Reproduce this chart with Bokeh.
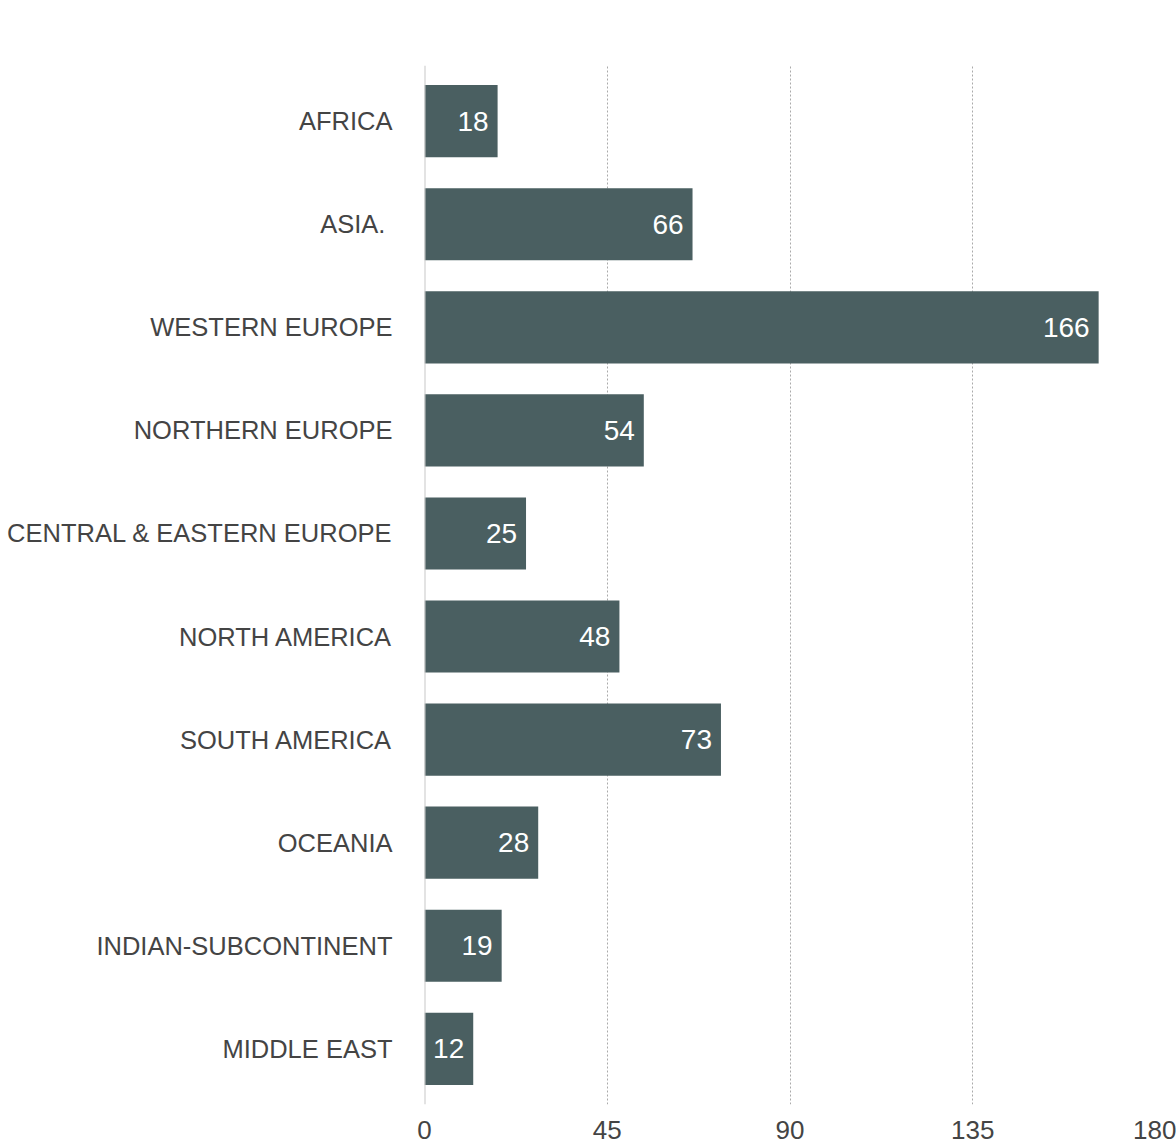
from bokeh.plotting import figure
from bokeh.models import ColumnDataSource, FactorRange, Range1d, FixedTicker, Span, LabelSet
from bokeh.core.properties import value
from bokeh.embed import file_html
from bokeh.resources import INLINE

categories = ["AFRICA", "ASIA. ", "WESTERN EUROPE", "NORTHERN EUROPE",
              "CENTRAL & EASTERN EUROPE", "NORTH AMERICA", "SOUTH AMERICA",
              "OCEANIA", "INDIAN-SUBCONTINENT", "MIDDLE EAST"]
values = [18, 66, 166, 54, 25, 48, 73, 28, 19, 12]
x_ticks = [0, 45, 90, 135, 180]
title_text = "WORLDWIDE BIG COMPANIES INVITED"

FONT = "Liberation Sans"
TEXT = "#444444"
BAR = "#4a5f61"

src = ColumnDataSource(dict(cat=categories, val=values,
                            lbl=[str(v) for v in values]))

p = figure(width=1176, height=1145, output_backend="svg", toolbar_location=None,
           y_range=FactorRange(factors=list(reversed(categories)),
                               range_padding=0.008),
           x_range=Range1d(0, 180),
           min_border_left=424, min_border_right=21,
           min_border_top=65, min_border_bottom=41)

p.hbar(y="cat", right="val", left=0, height=0.7, source=src,
       fill_color=BAR, line_color=None)

p.add_layout(Span(location=0, dimension="height", line_color="#c8c8c8",
                  line_width=2))

labels = LabelSet(x="val", y="cat", text="lbl", source=src, x_offset=-9,
                  text_align="right", text_baseline="middle",
                  text_color="white", text_font=value(FONT),
                  text_font_size="28px")
p.add_layout(labels)

# chart title, placed above the first category row
title_src = ColumnDataSource(dict(x=[89.5], y=[categories[0]], t=[title_text]))
title = LabelSet(x="x", y="y", text="t", source=title_src, y_offset=103,
                 text_align="center", text_baseline="middle",
                 text_font=value(FONT), text_font_size="31.5px",
                 text_color=TEXT)
p.add_layout(title)

p.outline_line_color = None
p.ygrid.grid_line_color = None
p.xgrid.ticker = FixedTicker(ticks=x_ticks)
p.xgrid.grid_line_color = "#aaaaaa"
p.xgrid.grid_line_dash = "2 2"
p.xgrid.grid_line_width = 1

p.xaxis.ticker = FixedTicker(ticks=x_ticks)
for ax in (p.xaxis[0], p.yaxis[0]):
    ax.axis_line_color = None
    ax.major_tick_line_color = None
    ax.minor_tick_line_color = None
    ax.major_label_text_font = FONT
    ax.major_label_text_color = TEXT
p.xaxis.major_label_text_font_size = "26px"
p.xaxis.major_label_standoff = 10
p.yaxis.major_label_text_font_size = "25.5px"
p.yaxis.major_label_standoff = 26

open("out.html", "w").write(file_html(p, INLINE))
